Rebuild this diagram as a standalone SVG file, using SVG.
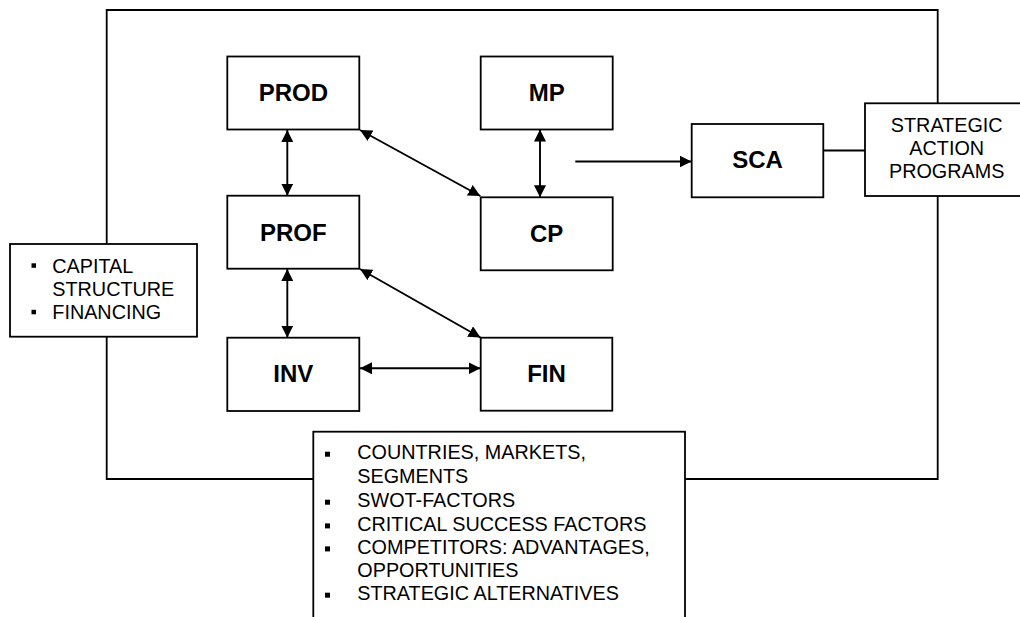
<svg xmlns="http://www.w3.org/2000/svg" width="1020" height="617" viewBox="0 0 1020 617">
<style>
.box{fill:#fff;stroke:#000;stroke-width:1.8}
.frame{fill:none;stroke:#000;stroke-width:1.8}
.ln{fill:none;stroke:#000;stroke-width:1.9}
.lbl{font-family:"Liberation Sans",Arial,sans-serif;font-weight:bold;font-size:24px;text-anchor:middle;fill:#000}
.txt{font-family:"Liberation Sans",Arial,sans-serif;font-size:19.8px;fill:#000}
.ctr{text-anchor:middle}
.bul{fill:#000}
</style>
<defs>
<marker id="ah" markerWidth="12" markerHeight="12" refX="12" refY="6" orient="auto-start-reverse" markerUnits="userSpaceOnUse">
<path d="M0,0 L12,6 L0,12 z" fill="#000"/>
</marker>
</defs>
<rect width="1020" height="617" fill="#fff"/>
<g id="frame">
<path class="frame" d="M313.3,479 H106.7 V10 H937.7 V479 H685"/>
</g>
<g id="connectors">
<line class="ln" x1="287.3" y1="130" x2="287.3" y2="195.7" marker-start="url(#ah)" marker-end="url(#ah)"/>
<line class="ln" x1="360" y1="130" x2="480.3" y2="196" marker-start="url(#ah)" marker-end="url(#ah)"/>
<line class="ln" x1="540" y1="129.5" x2="540" y2="197.3" marker-start="url(#ah)" marker-end="url(#ah)"/>
<line class="ln" x1="575.3" y1="161.5" x2="691.5" y2="161.5" marker-end="url(#ah)"/>
<line class="ln" x1="823.3" y1="150.5" x2="865" y2="150.5"/>
<line class="ln" x1="287.3" y1="269" x2="287.3" y2="337.7" marker-start="url(#ah)" marker-end="url(#ah)"/>
<line class="ln" x1="360" y1="269" x2="480.5" y2="337.5" marker-start="url(#ah)" marker-end="url(#ah)"/>
<line class="ln" x1="360" y1="368.3" x2="480.5" y2="368.3" marker-start="url(#ah)" marker-end="url(#ah)"/>
</g>
<g id="prod">
<rect class="box" x="227.3" y="56.5" width="132" height="73"/>
<text class="lbl" x="293.3" y="101">PROD</text>
</g>
<g id="mp">
<rect class="box" x="480.7" y="56.5" width="132" height="73"/>
<text class="lbl" x="546.7" y="101">MP</text>
</g>
<g id="prof">
<rect class="box" x="227.3" y="195.7" width="132" height="73"/>
<text class="lbl" x="293.3" y="240.5">PROF</text>
</g>
<g id="cp">
<rect class="box" x="480.7" y="197.3" width="132" height="73"/>
<text class="lbl" x="546.7" y="241.5">CP</text>
</g>
<g id="inv">
<rect class="box" x="227.3" y="337.7" width="132" height="73.3"/>
<text class="lbl" x="293.3" y="382">INV</text>
</g>
<g id="fin">
<rect class="box" x="480.7" y="337.7" width="131.6" height="73"/>
<text class="lbl" x="546.5" y="382">FIN</text>
</g>
<g id="sca">
<rect class="box" x="691.7" y="124" width="131.6" height="73.3"/>
<text class="lbl" x="757.5" y="168">SCA</text>
</g>
<g id="programs">
<rect class="box" x="865" y="103.3" width="165" height="92.7"/>
<text class="txt ctr" x="946.7" y="131.7">STRATEGIC</text>
<text class="txt ctr" x="946.7" y="155">ACTION</text>
<text class="txt ctr" x="946.7" y="177.7">PROGRAMS</text>
</g>
<g id="capital">
<rect class="box" x="10" y="244" width="187" height="92.7"/>
<rect class="bul" x="31.5" y="263.3" width="4.5" height="4.5"/>
<text class="txt" x="52.3" y="272.7">CAPITAL</text>
<text class="txt" x="52.3" y="296">STRUCTURE</text>
<rect class="bul" x="31.5" y="309.8" width="4.5" height="4.5"/>
<text class="txt" x="52.3" y="319">FINANCING</text>
</g>
<g id="factors">
<rect class="box" x="313.3" y="431.7" width="371.7" height="200"/>
<rect class="bul" x="325" y="451.7" width="5" height="5"/>
<text class="txt" x="357.3" y="459">COUNTRIES, MARKETS,</text>
<text class="txt" x="357.3" y="483">SEGMENTS</text>
<rect class="bul" x="325" y="499.7" width="5" height="5"/>
<text class="txt" x="357.3" y="507">SWOT-FACTORS</text>
<rect class="bul" x="325" y="523.4" width="5" height="5"/>
<text class="txt" x="357.3" y="530.7">CRITICAL SUCCESS FACTORS</text>
<rect class="bul" x="325" y="546.4" width="5" height="5"/>
<text class="txt" x="357.3" y="553.7">COMPETITORS: ADVANTAGES,</text>
<text class="txt" x="357.3" y="577">OPPORTUNITIES</text>
<rect class="bul" x="325" y="592.7" width="5" height="5"/>
<text class="txt" x="357.3" y="600">STRATEGIC ALTERNATIVES</text>
</g>
</svg>
